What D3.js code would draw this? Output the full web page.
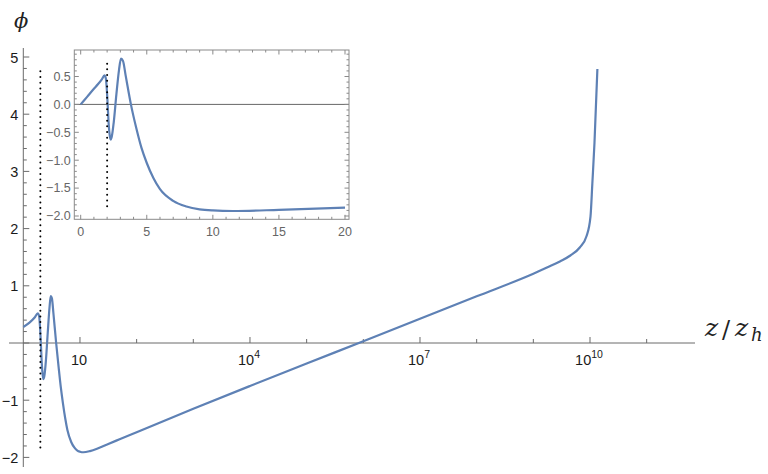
<!DOCTYPE html>
<html><head><meta charset="utf-8">
<script src="https://cdn.jsdelivr.net/npm/d3@7"></script>
<style>
html,body{margin:0;padding:0;background:#fff;}
svg{display:block;}
</style></head>
<body>
<svg id="chart" width="768" height="474"></svg>
<script>
// ---- data ----
const zVals = [0, 0.5, 1, 1.3, 1.6, 1.8, 1.9, 1.97, 2.04, 2.12, 2.2, 2.27, 2.35, 2.5, 2.7, 2.9, 3.05, 3.2, 3.4, 3.8, 4.2, 4.6, 5, 5.5, 6, 7, 8, 9, 10, 11.5, 15, 20, 31.6, 50, 100, 1e3, 1e4, 1e5, 1e6, 1e7, 1e8, 1e9, 1.95e9, 3e9, 4.5e9, 6.6e9, 8.7e9, 1.02e10, 1.1e10, 1.2e10, 1.35e10];
const phiVals = [0, 0.14, 0.28, 0.36, 0.45, 0.52, 0.47, 0.29, 0.0, -0.36, -0.56, -0.63, -0.58, -0.32, 0.18, 0.62, 0.82, 0.78, 0.52, 0.0, -0.42, -0.78, -1.05, -1.32, -1.52, -1.73, -1.83, -1.88, -1.90, -1.91, -1.89, -1.85, -1.765, -1.683, -1.56, -1.15, -0.752, -0.36, 0.032, 0.424, 0.816, 1.21, 1.34, 1.43, 1.53, 1.67, 1.87, 2.21, 2.79, 3.5, 4.79];
const horizonZ = 2;
const mainDotRange = [-1.92, 4.75];
const insetDotRange = [-1.91, 0.73];
const mainYTicks = [-2, -1, 0, 1, 2, 3, 4, 5];
const mainXTickExps = [1, 4, 7, 10];
const mainXMinorExps = [2, 3, 5, 6, 8, 9, 11];
const insetXTicks = [0, 5, 10, 15, 20];
const insetYTicks = [-2.0, -1.5, -1.0, -0.5, 0.0, 0.5];

const data = zVals.map((z, i) => ({z, phi: phiVals[i]}));
const svg = d3.select("#chart");
const blue = "#5e81b5", axisCol = "#6b6b6b";
const sans = "'Liberation Sans', Arial, sans-serif";

// ---- main plot ----
const x = d3.scaleLog().domain([1, 1e10]).range([23.3, 590]);
const y = d3.scaleLinear().domain([-2, 5]).range([457.4, 57]);
const axisXLeft = 9, axisXRight = 695, axisYTop = 48, axisYBottom = 467;

const g = svg.append("g");
// x axis
g.append("line").attr("x1", axisXLeft).attr("x2", axisXRight).attr("y1", y(0)).attr("y2", y(0))
  .attr("stroke", axisCol).attr("stroke-width", 1);
mainXTickExps.forEach(e => {
  const px = x(Math.pow(10, e));
  g.append("line").attr("x1", px).attr("x2", px).attr("y1", y(0)).attr("y2", y(0) - 6).attr("stroke", axisCol);
  const t = g.append("text").attr("font-family", sans).attr("x", px - 1).attr("y", y(0) + 22)
    .attr("text-anchor", "middle").attr("font-size", 14.5).attr("fill", "#1a1a1a");
  if (e === 1) { t.text("10"); }
  else { t.append("tspan").text("10"); t.append("tspan").attr("dy", -7.5).attr("font-size", 10.5).text(String(e)); }
});
mainXMinorExps.forEach(e => {
  const px = x(Math.pow(10, e));
  g.append("line").attr("x1", px).attr("x2", px).attr("y1", y(0)).attr("y2", y(0) - 4).attr("stroke", axisCol);
});
// y axis
const ax0 = x(1);
g.append("line").attr("x1", ax0).attr("x2", ax0).attr("y1", axisYTop).attr("y2", axisYBottom)
  .attr("stroke", axisCol).attr("stroke-width", 1);
for (let k = -10; k <= 25; k++) {
  const r = k / 5;
  const major = k % 5 === 0;
  g.append("line").attr("x1", ax0).attr("x2", ax0 + (major ? 6 : 3.5)).attr("y1", y(r)).attr("y2", y(r))
    .attr("stroke", axisCol);
}
mainYTicks.forEach(v => {
  if (v === 0) return;
  g.append("text").attr("font-family", sans).attr("x", ax0 - 5).attr("y", y(v) + 5.5)
    .attr("text-anchor", "end").attr("font-size", 14.5).attr("fill", "#1a1a1a")
    .text(v < 0 ? "\u2212" + Math.abs(v) : String(v));
});
// axis labels
g.append("text").attr("x", 14).attr("y", 28).attr("font-family", "'DejaVu Serif',serif")
  .attr("font-style", "italic").attr("font-size", 21).attr("fill", "#222").text("\u03D5");
const lab = g.append("g").attr("font-family", "'DejaVu Serif',serif")
  .attr("font-style", "italic").attr("fill", "#222");
lab.append("text").attr("x", 705).attr("y", 336).attr("font-size", 25).text("z");
lab.append("text").attr("x", 722).attr("y", 338).attr("font-size", 24).attr("font-style", "normal").text("/");
lab.append("text").attr("x", 735).attr("y", 336).attr("font-size", 25).text("z");
lab.append("text").attr("x", 751).attr("y", 341).attr("font-size", 18).text("h");

// main curve
const mainData = data.filter(d => d.z >= 1);
const lineMain = d3.line().x(d => x(d.z)).y(d => y(d.phi)).curve(d3.curveMonotoneX);
g.append("path").datum(mainData).attr("d", lineMain).attr("fill", "none")
  .attr("stroke", blue).attr("stroke-width", 2.2);
// dotted horizon line
g.append("line").attr("x1", x(horizonZ)).attr("x2", x(horizonZ))
  .attr("y1", y(mainDotRange[1])).attr("y2", y(mainDotRange[0]))
  .attr("stroke", "#000").attr("stroke-width", 2).attr("stroke-linecap", "round")
  .attr("stroke-dasharray", "0,5.7");

// ---- inset ----
const ix = d3.scaleLinear().domain([0, 20]).range([80.7, 345]);
const iy = d3.scaleLinear().domain([-2, 0.5]).range([216, 76.5]);
const fx0 = 74.3, fx1 = 349, fy0 = 50, fy1 = 219.3;
const ig = svg.append("g");
ig.append("rect").attr("x", fx0).attr("y", fy0).attr("width", fx1 - fx0).attr("height", fy1 - fy0)
  .attr("fill", "#fff").attr("stroke", "#8a8a8a").attr("stroke-width", 1);
// zero line
ig.append("line").attr("x1", fx0).attr("x2", fx1).attr("y1", iy(0)).attr("y2", iy(0))
  .attr("stroke", "#666").attr("stroke-width", 1);
// ticks
for (let v = 0; v <= 20; v++) {
  const major = v % 5 === 0, len = major ? 4.5 : 2.5;
  ig.append("line").attr("x1", ix(v)).attr("x2", ix(v)).attr("y1", fy1).attr("y2", fy1 - len).attr("stroke", "#8a8a8a");
  ig.append("line").attr("x1", ix(v)).attr("x2", ix(v)).attr("y1", fy0).attr("y2", fy0 + len).attr("stroke", "#8a8a8a");
}
for (let k = -20; k <= 9; k++) {
  const v = k / 10, major = k % 5 === 0, len = major ? 4.5 : 2.5;
  ig.append("line").attr("x1", fx0).attr("x2", fx0 + len).attr("y1", iy(v)).attr("y2", iy(v)).attr("stroke", "#8a8a8a");
  ig.append("line").attr("x1", fx1).attr("x2", fx1 - len).attr("y1", iy(v)).attr("y2", iy(v)).attr("stroke", "#8a8a8a");
}
insetXTicks.forEach(v => {
  ig.append("text").attr("font-family", sans).attr("x", ix(v)).attr("y", fy1 + 16.5)
    .attr("text-anchor", "middle").attr("font-size", 12.5).attr("fill", "#666").text(String(v));
});
insetYTicks.forEach(v => {
  ig.append("text").attr("font-family", sans).attr("x", fx0 - 3.5).attr("y", iy(v) + 4.3)
    .attr("text-anchor", "end").attr("font-size", 12.5).attr("fill", "#666")
    .text(v < 0 ? "\u2212" + Math.abs(v).toFixed(1) : v.toFixed(1));
});
const insetData = data.filter(d => d.z <= 20);
const lineInset = d3.line().x(d => ix(d.z)).y(d => iy(d.phi)).curve(d3.curveMonotoneX);
ig.append("path").datum(insetData).attr("d", lineInset).attr("fill", "none")
  .attr("stroke", blue).attr("stroke-width", 2.2);
ig.append("line").attr("x1", ix(horizonZ)).attr("x2", ix(horizonZ))
  .attr("y1", iy(insetDotRange[1])).attr("y2", iy(insetDotRange[0]))
  .attr("stroke", "#000").attr("stroke-width", 2).attr("stroke-linecap", "round")
  .attr("stroke-dasharray", "0,5.7");
</script>
</body></html>
